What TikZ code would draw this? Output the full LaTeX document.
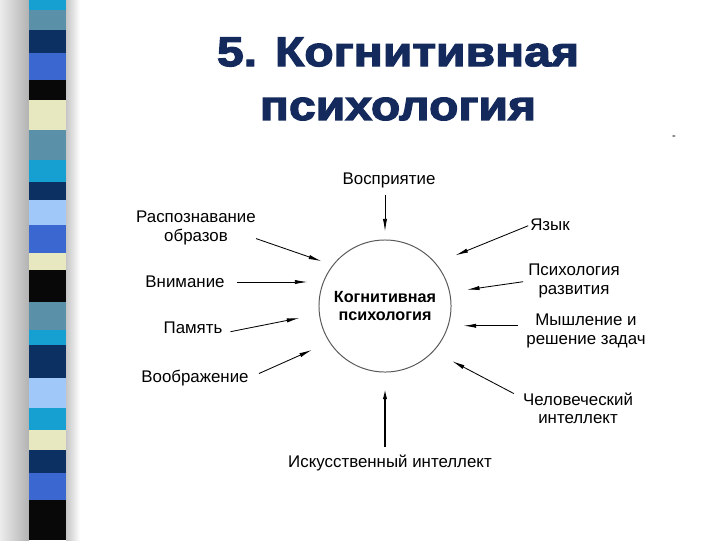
\documentclass[tikz,border=0pt]{standalone}
\usepackage{fontspec}
\setmainfont{Liberation Sans}
\newfontfamily\titlefont[FakeStretch=1.16,FakeBold=3]{Liberation Sans Bold}
\usetikzlibrary{arrows.meta}
\definecolor{titleblue}{RGB}{20,42,92}
\definecolor{stcyan}{RGB}{22,160,210}
\definecolor{ststeel}{RGB}{90,144,168}
\definecolor{stnavy}{RGB}{12,48,98}
\definecolor{stroyal}{RGB}{58,104,208}
\definecolor{stpale}{RGB}{232,232,192}
\definecolor{stlight}{RGB}{160,200,248}
\definecolor{stblack}{RGB}{8,8,8}

\begin{document}
\begin{tikzpicture}[
    x=0.025cm, y=-0.025cm,
    lbl/.style={align=center, inner sep=0pt, font=\fontsize{12}{13}\selectfont},
    hub/.style={circle, draw=black!65, line width=0.7pt, minimum size=3.3cm, inner sep=0pt, align=center, font=\bfseries\fontsize{11.5}{13}\selectfont},
    arr/.style={-{Latex[length=9pt,width=3pt]}, line width=0.6pt},
    heading/.style={font=\titlefont\fontsize{29.5}{38}\selectfont, text=titleblue, inner sep=0pt}
]
\useasboundingbox (0,0) rectangle (720,540);
\fill[white] (0,0) rectangle (720,540);

% striped bar on the left
\shade[left color=gray!15, right color=gray!60] (0,0) rectangle (29,540);
\shade[left color=gray!45, right color=white] (66,0) rectangle (80,540);
\foreach \ya/\yb/\col in {0/10/stcyan, 10/30/ststeel, 30/53/stnavy, 53/80/stroyal, 80/100/stblack,
    100/130/stpale, 130/160/ststeel, 160/182/stcyan, 182/200/stnavy, 200/225/stlight, 225/253/stroyal,
    253/270/stpale, 270/302/stblack, 302/330/ststeel, 330/345/stcyan, 345/378/stnavy, 378/408/stlight,
    408/430/stcyan, 430/450/stpale, 450/473/stnavy, 473/500/stroyal, 500/540/stblack}
    \fill[\col] (29,\ya) rectangle (66,\yb);

% title
\node[heading] (title1) at (398,52) {5. Когнитивная};
\node[heading] (title2) at (398,109) {психология};
\node[inner sep=0pt, font=\fontsize{8}{8}\selectfont] (dash) at (674,138) {-};

% centre
\node[hub] (hub) at (385,306) {Когнитивная\\психология};

\node[lbl] (vospr) at (389,180) {Восприятие};
\node[lbl] (rasp) at (196,228) {Распознавание\\образов};
\node[lbl] (vnim) at (185,282) {Внимание};
\node[lbl] (pam) at (193,328) {Память};
\node[lbl] (vobr) at (195,378) {Воображение};
\node[lbl] (yaz) at (550,225) {Язык};
\node[lbl] (psy) at (574,281) {Психология\\развития};
\node[lbl] (mysh) at (586,331) {Мышление и\\решение задач};
\node[lbl] (chel) at (578,408) {Человеческий\\интеллект};
\node[lbl] (isk) at (390,463) {Искусственный интеллект};

\draw[arr, shorten <=0.175cm, shorten >=0.2cm] (vospr.south -| hub.north) -- (hub.north);
\draw[arr, shorten >=0.3cm] (rasp.-10) -- (hub.142);
\draw[arr, shorten <=0.3cm, shorten >=0.275cm] (vnim.east) -- (vnim.east -| hub.west);
\draw[arr, shorten <=0.2cm, shorten >=0.5cm] (pam.-10) -- (hub.187);
\draw[arr, shorten <=0.275cm, shorten >=0.475cm] (vobr.east) -- (hub.213.5);
\draw[arr, shorten <=0.05cm, shorten >=0.525cm] (yaz.west) -- (hub.40);
\draw[arr, shorten <=0.125cm, shorten >=0.425cm] (psy.west) -- (hub.12.5);
\draw[arr, shorten <=0.2cm, shorten >=0.3cm] (mysh.175) -- (mysh.175 -| hub.east);
\draw[arr, shorten <=0.25cm, shorten >=0.525cm] (chel.170) -- (hub.317.3);
\draw[arr, line width=1.3pt, shorten <=0.2cm, shorten >=0.35cm] (isk.north -| hub.south) -- (hub.south);

\end{tikzpicture}
\end{document}
